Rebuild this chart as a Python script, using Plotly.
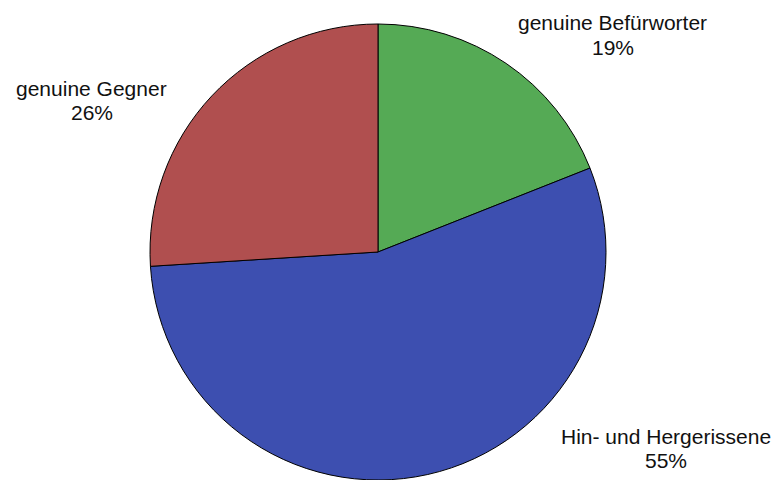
import plotly.graph_objects as go

labels = ["genuine Befürworter", "Hin- und Hergerissene", "genuine Gegner"]
values = [19, 55, 26]
colors = ["#55AA55", "#3D4FB0", "#B04F4F"]

# label placement in pixels: (x centre, y of name line, y of percent line)
label_pos = {
    "genuine Befürworter": (612.5, 22, 47.5),
    "Hin- und Hergerissene": (666, 436.5, 460.5),
    "genuine Gegner": (91.5, 88, 112.5),
}

W, H = 777, 480
TOP = 24
cx, r = 378, 228
FONT = dict(family="Liberation Sans, Arial, sans-serif", size=21, color="#111111")

fig = go.Figure(go.Pie(
    labels=labels, values=values, sort=False, direction="clockwise", rotation=0,
    marker=dict(colors=colors, line=dict(color="black", width=1)),
    textinfo="none", hoverinfo="label+percent",
    domain=dict(x=[(cx - r) / W, (cx + r) / W], y=[0, 1]),
    showlegend=False,
))

for lab, val in zip(labels, values):
    x, y1, y2 = label_pos[lab]
    for txt, y in ((lab, y1), (f"{val}%", y2)):
        fig.add_annotation(
            x=x / W, y=1 - (y - TOP) / (H - TOP), xref="paper", yref="paper",
            text=txt, showarrow=False, font=FONT,
            align="center", xanchor="center", yanchor="middle",
        )

fig.update_layout(
    width=W, height=H, margin=dict(l=0, r=0, t=TOP, b=0),
    paper_bgcolor="white", plot_bgcolor="white",
)
fig.write_html("out.html")
